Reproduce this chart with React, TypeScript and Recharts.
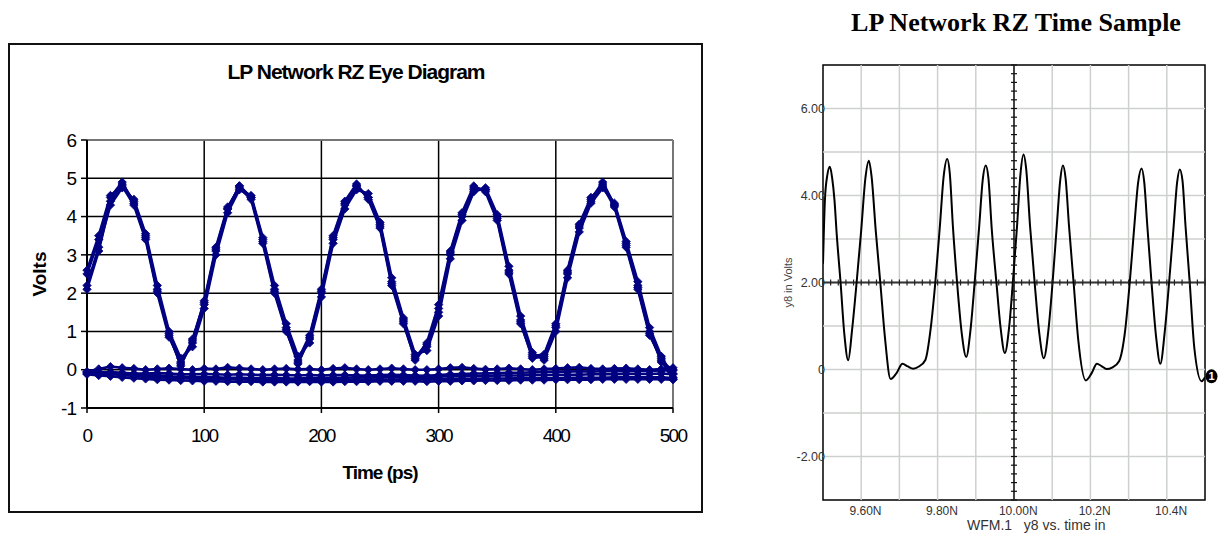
import React from 'react';
import {
  LineChart,
  ComposedChart,
  Line,
  XAxis,
  YAxis,
  CartesianGrid,
  ReferenceLine,
  ReferenceArea,
  ReferenceDot,
} from 'recharts';

const SANS = '"Liberation Sans", Arial, Helvetica, sans-serif';
const SERIF = '"Liberation Serif", "Times New Roman", serif';
const NAVY = '#000080';

// ---------------- Left chart: LP Network RZ Eye Diagram ----------------
const eyeTimes = [
  0, 10, 20, 30, 40, 50, 60, 70, 80, 90, 100, 110, 120, 130, 140, 150, 160, 170, 180, 190,
  200, 210, 220, 230, 240, 250, 260, 270, 280, 290, 300, 310, 320, 330, 340, 350, 360, 370,
  380, 390, 400, 410, 420, 430, 440, 450, 460, 470, 480, 490, 500,
];
const eyePulseA = [
  2.1, 3.1, 4.4, 4.85, 4.4, 3.5, 2.1, 0.9, 0.15, 0.7, 1.7, 3.1, 4.2, 4.8, 4.5, 3.4, 2.1, 1.1,
  0.2, 0.8, 2.0, 3.4, 4.3, 4.8, 4.5, 3.8, 2.3, 1.3, 0.35, 0.6, 1.5, 3.0, 4.0, 4.7, 4.7, 4.0,
  2.6, 1.3, 0.4, 0.3, 1.1, 2.5, 3.7, 4.4, 4.85, 4.3, 3.3, 2.2, 1.0, 0.2, 0.0,
];
const eyePulseB = [
  2.6, 3.5, 4.55, 4.8, 4.3, 3.4, 2.0, 0.85, 0.2, 0.75, 1.8, 3.2, 4.25, 4.75, 4.45, 3.3, 2.0,
  1.0, 0.25, 0.9, 2.1, 3.5, 4.4, 4.85, 4.45, 3.7, 2.2, 1.2, 0.3, 0.7, 1.7, 3.1, 4.1, 4.8, 4.65,
  3.9, 2.5, 1.2, 0.35, 0.4, 1.2, 2.6, 3.8, 4.5, 4.8, 4.25, 3.2, 2.1, 0.9, 0.3, -0.1,
];
const eyePulseC = [
  2.2, 3.2, 4.3, 4.75, 4.45, 3.55, 2.2, 1.0, 0.3, 0.6, 1.6, 3.0, 4.1, 4.7, 4.55, 3.45, 2.2,
  1.2, 0.35, 0.7, 1.9, 3.3, 4.2, 4.7, 4.6, 3.85, 2.4, 1.35, 0.4, 0.5, 1.4, 2.9, 3.9, 4.65,
  4.75, 4.05, 2.7, 1.4, 0.45, 0.25, 1.0, 2.4, 3.6, 4.35, 4.75, 4.35, 3.35, 2.3, 1.1, 0.35, -0.2,
];
const eyePulseD = [
  2.5, 3.4, 4.5, 4.9, 4.35, 3.45, 2.05, 0.95, 0.1, 0.8, 1.75, 3.15, 4.2, 4.8, 4.5, 3.35, 2.05,
  1.05, 0.15, 0.85, 2.05, 3.45, 4.35, 4.8, 4.5, 3.75, 2.25, 1.25, 0.25, 0.65, 1.6, 3.05, 4.05,
  4.75, 4.7, 3.95, 2.55, 1.25, 0.3, 0.35, 1.15, 2.55, 3.75, 4.45, 4.9, 4.3, 3.25, 2.15, 0.95,
  0.25, -0.25,
];
const eyeLowA = [
  -0.05, 0.02, 0.08, 0.05, 0.03, 0.0, 0.02, 0.04, 0.02, 0.0, 0.03, 0.02, 0.06, 0.04, 0.02, 0.0,
  0.02, 0.03, 0.01, 0.02, 0.0, 0.03, 0.05, 0.02, 0.0, 0.02, 0.04, 0.02, 0.0, 0.0, 0.02, 0.05,
  0.06, 0.03, 0.01, 0.02, 0.04, 0.02, 0.0, 0.02, 0.03, 0.05, 0.06, 0.03, 0.02, 0.03, 0.04, 0.02,
  0.0, 0.02, 0.05,
];
const eyeLowB = [
  -0.1, -0.08, -0.06, -0.08, -0.1, -0.1, -0.09, -0.1, -0.12, -0.12, -0.11, -0.12, -0.13, -0.12,
  -0.13, -0.14, -0.13, -0.14, -0.15, -0.14, -0.15, -0.14, -0.14, -0.15, -0.15, -0.14, -0.13,
  -0.14, -0.15, -0.16, -0.14, -0.12, -0.11, -0.1, -0.1, -0.09, -0.08, -0.08, -0.07, -0.06,
  -0.05, -0.05, -0.04, -0.05, -0.04, -0.03, -0.04, -0.03, -0.03, -0.02, -0.02,
];
const eyeLowC = [
  -0.12, -0.15, -0.17, -0.2, -0.22, -0.24, -0.26, -0.27, -0.28, -0.29, -0.3, -0.3, -0.31, -0.31,
  -0.31, -0.32, -0.32, -0.32, -0.32, -0.31, -0.32, -0.32, -0.31, -0.31, -0.31, -0.3, -0.3, -0.3,
  -0.3, -0.31, -0.3, -0.3, -0.29, -0.29, -0.28, -0.28, -0.28, -0.27, -0.27, -0.27, -0.26, -0.26,
  -0.26, -0.26, -0.25, -0.25, -0.25, -0.25, -0.25, -0.25, -0.26,
];
const eyeLowD = [
  -0.08, -0.1, -0.12, -0.14, -0.16, -0.18, -0.2, -0.21, -0.22, -0.23, -0.24, -0.24, -0.25,
  -0.25, -0.26, -0.26, -0.26, -0.27, -0.27, -0.27, -0.27, -0.27, -0.27, -0.26, -0.26, -0.26,
  -0.26, -0.25, -0.25, -0.25, -0.25, -0.24, -0.24, -0.24, -0.23, -0.23, -0.23, -0.22, -0.22,
  -0.22, -0.22, -0.21, -0.21, -0.21, -0.21, -0.2, -0.2, -0.2, -0.2, -0.2, -0.22,
];
const eyeLowE = [
  -0.06, -0.07, -0.08, -0.1, -0.12, -0.14, -0.15, -0.17, -0.18, -0.19, -0.2, -0.2, -0.21, -0.21,
  -0.22, -0.22, -0.22, -0.23, -0.23, -0.22, -0.22, -0.21, -0.21, -0.2, -0.2, -0.2, -0.19, -0.19,
  -0.18, -0.18, -0.18, -0.17, -0.17, -0.16, -0.16, -0.15, -0.15, -0.15, -0.14, -0.14, -0.13,
  -0.13, -0.13, -0.12, -0.12, -0.12, -0.11, -0.11, -0.11, -0.1, -0.12,
];
const eyeXTicks = [0, 100, 200, 300, 400, 500];
const eyeYTicks = [-1, 0, 1, 2, 3, 4, 5, 6];

const eyeSeries: { key: string; values: number[] }[] = [
  { key: 'lowC', values: eyeLowC },
  { key: 'lowD', values: eyeLowD },
  { key: 'lowE', values: eyeLowE },
  { key: 'lowB', values: eyeLowB },
  { key: 'lowA', values: eyeLowA },
  { key: 'pulseA', values: eyePulseA },
  { key: 'pulseB', values: eyePulseB },
  { key: 'pulseC', values: eyePulseC },
  { key: 'pulseD', values: eyePulseD },
];

const eyeData = eyeTimes.map((t, i) => {
  const row: Record<string, number> = { t };
  eyeSeries.forEach((s) => {
    row[s.key] = s.values[i];
  });
  return row;
});

// ---------------- Right chart: LP Network RZ Time Sample ----------------
const sampleTimes = [
  9.5, 9.505, 9.511, 9.518, 9.524, 9.53, 9.536, 9.546, 9.556, 9.566,
  9.576, 9.588, 9.6, 9.611, 9.62, 9.627, 9.638, 9.65, 9.662, 9.677,
  9.692, 9.708, 9.722, 9.736, 9.751, 9.768,
  9.782, 9.794, 9.806, 9.816, 9.825, 9.832, 9.84, 9.851, 9.863, 9.875,
  9.886, 9.897, 9.909, 9.918, 9.926, 9.933, 9.942, 9.954, 9.965, 9.976,
  9.987, 9.997, 10.008, 10.017, 10.025, 10.032, 10.042, 10.054, 10.066, 10.078,
  10.09, 10.101, 10.112, 10.121, 10.128, 10.135, 10.144, 10.156, 10.168, 10.188,
  10.203, 10.217, 10.229, 10.242, 10.258, 10.275,
  10.291, 10.303, 10.315, 10.325, 10.334, 10.341, 10.349, 10.36, 10.372, 10.383,
  10.395, 10.406, 10.418, 10.427, 10.434, 10.441, 10.449, 10.46, 10.472, 10.491, 10.5,
];
const sampleVolts = [
  2.43, 3.9, 4.45, 4.66, 4.4, 3.9, 3.1, 2.0, 0.8, 0.21,
  0.9, 2.0, 3.2, 4.4, 4.8, 4.45, 3.2, 2.0, 0.75, -0.22,
  -0.09, 0.13, 0.07, 0.02, 0.07, 0.22,
  0.95, 2.0, 3.3, 4.45, 4.84, 4.5, 3.3, 2.0, 0.85, 0.29,
  0.9, 2.0, 3.3, 4.35, 4.69, 4.4, 3.2, 2.0, 0.95, 0.38,
  0.95, 2.0, 3.3, 4.5, 4.94, 4.6, 3.3, 2.0, 0.85, 0.26,
  0.9, 2.0, 3.3, 4.35, 4.69, 4.4, 3.3, 2.0, 0.7, -0.25,
  -0.09, 0.13, 0.08, 0.01, 0.05, 0.19,
  0.9, 2.0, 3.3, 4.3, 4.62, 4.3, 3.3, 2.0, 0.75, 0.13,
  0.9, 2.0, 3.3, 4.3, 4.6, 4.35, 3.3, 2.0, 0.5, -0.27, -0.18,
];
const sampleXTicks = [9.6, 9.8, 10.0, 10.2, 10.4];
const sampleXTickLabels = ['9.60N', '9.80N', '10.00N', '10.2N', '10.4N'];
const sampleYTicks = [-2, 0, 2, 4, 6];
const sampleYTickLabels = ['-2.00', '0', '2.00', '4.00', '6.00'];
const sampleGridX = [9.6, 9.7, 9.8, 9.9, 10.0, 10.1, 10.2, 10.3, 10.4];
const sampleGridY = [-2, -1, 0, 1, 2, 3, 4, 5, 6];
const crossTicksV = Array.from({ length: 51 }, (_, i) => Math.round((-3 + i * 0.2) * 100) / 100);
const crossTicksH = Array.from({ length: 51 }, (_, i) => Math.round((9.5 + i * 0.02) * 1000) / 1000);

const sampleData = sampleTimes.map((t, i) => ({ t, v: sampleVolts[i] }));

// ---------------- renderers ----------------
const Diamond = (props: any) => {
  const { cx, cy, index, dataKey } = props;
  const k = `${dataKey}-${index}`;
  if (cx == null || cy == null) return <g key={k} />;
  const s = 4.2;
  return (
    <path
      key={k}
      d={`M${cx},${cy - s}L${cx + s},${cy}L${cx},${cy + s}L${cx - s},${cy}Z`}
      fill={NAVY}
      stroke={NAVY}
      strokeWidth={0.8}
    />
  );
};

const EyeYTick = (props: any) => {
  const { x, y, payload } = props;
  return (
    <text x={x} y={y} dy="0.35em" textAnchor="end" fontFamily={SANS} fontSize={19} letterSpacing={-1} fill="#000">
      {payload.value}
    </text>
  );
};

const EyeXTick = (props: any) => {
  const { x, y, payload } = props;
  return (
    <text x={x} y={y} dy={29} textAnchor="middle" fontFamily={SANS} fontSize={19} letterSpacing={-1.8} fill="#000">
      {payload.value}
    </text>
  );
};

const SampleYTick = (props: any) => {
  const { x, y, payload } = props;
  const idx = sampleYTicks.indexOf(payload.value);
  return (
    <text x={x + 2} y={y} dy={4} textAnchor="end" fontFamily={SANS} fontSize={12.5} fill="#333">
      {idx >= 0 ? sampleYTickLabels[idx] : ''}
    </text>
  );
};

const SampleXTick = (props: any) => {
  const { x, y, payload } = props;
  const idx = sampleXTicks.findIndex((v) => Math.abs(v - payload.value) < 1e-6);
  return (
    <text x={x + 4.3} y={y} dy={15} textAnchor="middle" fontFamily={SANS} fontSize={12} fill="#333">
      {idx >= 0 ? sampleXTickLabels[idx] : ''}
    </text>
  );
};

const HTick = (p: any) => (
  <line x1={p.cx - 3} y1={p.cy} x2={p.cx + 3} y2={p.cy} stroke="#111" strokeWidth={1.2} />
);
const VTick = (p: any) => (
  <line x1={p.cx} y1={p.cy - 3} x2={p.cx} y2={p.cy + 3} stroke="#222" strokeWidth={1.2} />
);
const EndMarker = (p: any) => (
  <g>
    <ellipse cx={p.cx + 6.5} cy={p.cy - 1} rx={6} ry={7} fill="#000" />
    <text x={p.cx + 6.5} y={p.cy + 3} textAnchor="middle" fontFamily={SANS} fontWeight="bold" fontSize={11} fill="#fff">
      1
    </text>
  </g>
);

export default function App() {
  return (
    <div
      style={{
        position: 'absolute',
        left: 0,
        top: 0,
        width: 1218,
        height: 538,
        background: '#fff',
        overflow: 'hidden',
      }}
    >
      {/* Left chart frame */}
      <div
        style={{
          position: 'absolute',
          left: 8,
          top: 43,
          width: 695,
          height: 470,
          border: '2px solid #111',
          boxSizing: 'border-box',
        }}
      />
      <div style={{ position: 'absolute', left: 8, top: 43 }}>
        <LineChart width={695} height={470} data={eyeData} margin={{ top: 97, right: 30, bottom: 75, left: 0 }}>
          <CartesianGrid stroke="#000" strokeWidth={1.5} />
          <ReferenceLine y={6} stroke="#888" strokeWidth={1.5} />
          <ReferenceLine x={500} stroke="#888" strokeWidth={1.5} />
          <XAxis
            type="number"
            dataKey="t"
            domain={[0, 500]}
            ticks={eyeXTicks}
            height={30}
            tickSize={5}
            tickMargin={0}
            axisLine={{ stroke: '#000', strokeWidth: 2 }}
            tickLine={{ stroke: '#000', strokeWidth: 1.5 }}
            tick={<EyeXTick />}
            interval={0}
          />
          <YAxis
            type="number"
            domain={[-1, 6]}
            ticks={eyeYTicks}
            width={79}
            tickSize={6}
            tickMargin={5}
            axisLine={{ stroke: '#000', strokeWidth: 2 }}
            tickLine={{ stroke: '#000', strokeWidth: 1.5 }}
            tick={<EyeYTick />}
            interval={0}
          />
          {eyeSeries.map((s) => (
            <Line
              key={s.key}
              type="linear"
              dataKey={s.key}
              stroke={NAVY}
              strokeWidth={2.6}
              dot={Diamond}
              activeDot={false}
              isAnimationActive={false}
            />
          ))}
        </LineChart>
      </div>

      {/* Right chart */}
      <div style={{ position: 'absolute', left: 760, top: 0 }}>
        <ComposedChart width={458} height={538} data={sampleData} margin={{ top: 65, right: 13, bottom: 18, left: 0 }}>
          <XAxis
            type="number"
            dataKey="t"
            domain={[9.5, 10.5]}
            ticks={sampleXTicks}
            height={20}
            tickSize={0}
            tickMargin={0}
            axisLine={false}
            tickLine={false}
            tick={<SampleXTick />}
            interval={0}
            allowDataOverflow
          />
          <YAxis
            type="number"
            domain={[-3, 7]}
            ticks={sampleYTicks}
            width={63}
            tickSize={0}
            tickMargin={0}
            axisLine={false}
            tickLine={false}
            tick={<SampleYTick />}
            interval={0}
            allowDataOverflow
          />
          {sampleGridX.map((v) => (
            <ReferenceLine key={`gx-${v}`} x={v} stroke="#cdd1cd" strokeWidth={1.5} />
          ))}
          {sampleGridY.map((v) => (
            <ReferenceLine key={`gy-${v}`} y={v} stroke="#cdd1cd" strokeWidth={1.5} />
          ))}
          <ReferenceLine x={10.0} stroke="#111" strokeWidth={1.5} />
          <ReferenceLine y={2} stroke="#333" strokeWidth={2} />
          {crossTicksV.map((v) => (
            <ReferenceDot key={`tv-${v}`} x={10.0} y={v} r={0} shape={HTick} ifOverflow="visible" />
          ))}
          {crossTicksH.map((v) => (
            <ReferenceDot key={`th-${v}`} x={v} y={2} r={0} shape={VTick} ifOverflow="visible" />
          ))}
          <ReferenceArea x1={9.5} x2={10.5} y1={-3} y2={7} fill="none" fillOpacity={0} stroke="#000" strokeWidth={1.5} />
          <Line
            type="monotone"
            dataKey="v"
            stroke="#000"
            strokeWidth={2}
            dot={false}
            activeDot={false}
            isAnimationActive={false}
          />
          <ReferenceDot
            x={sampleTimes[sampleTimes.length - 1]}
            y={sampleVolts[sampleVolts.length - 1]}
            r={0}
            shape={EndMarker}
            ifOverflow="visible"
          />
        </ComposedChart>
      </div>

      {/* Titles and axis titles */}
      <svg
        width={1218}
        height={538}
        style={{ position: 'absolute', left: 0, top: 0, pointerEvents: 'none' }}
      >
        <text x={356} y={79} textAnchor="middle" fontFamily={SANS} fontWeight="bold" fontSize={21} letterSpacing={-1} fill="#000">
          LP Network RZ Eye Diagram
        </text>
        <text
          x={46}
          y={274}
          transform="rotate(-90 46 274)"
          textAnchor="middle"
          fontFamily={SANS}
          fontWeight="bold"
          fontSize={19}
          fill="#000"
        >
          Volts
        </text>
        <text x={380} y={479} textAnchor="middle" fontFamily={SANS} fontWeight="bold" fontSize={19} letterSpacing={-1} fill="#000">
          Time (ps)
        </text>
        <text x={1016} y={31} textAnchor="middle" fontFamily={SERIF} fontWeight="bold" fontSize={26} fill="#000">
          LP Network RZ Time Sample
        </text>
        <text
          x={792}
          y={282.5}
          transform="rotate(-90 792 282.5)"
          textAnchor="middle"
          fontFamily={SANS}
          fontSize={11}
          fill="#444"
        >
          y8 in Volts
        </text>
        <text x={967} y={530} fontFamily={SANS} fontSize={14} fill="#333" style={{ whiteSpace: 'pre' }}>
          {'WFM.1   y8 vs. time in'}
        </text>
      </svg>
    </div>
  );
}
